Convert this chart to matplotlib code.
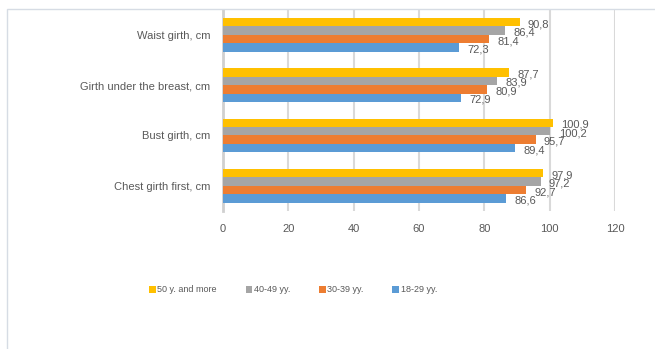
import numpy as np
import matplotlib.pyplot as plt
from matplotlib.patches import Rectangle

plt.rcParams['font.family'] = ['Liberation Sans', 'DejaVu Sans']

categories = ["Chest girth first, cm", "Bust girth, cm",
              "Girth under the breast, cm", "Waist girth, cm"]
series_names = ["18-29 yy.", "30-39 yy.", "40-49 yy.", "50 y. and more"]
v_18_29 = [86.6, 89.4, 72.9, 72.3]
v_30_39 = [92.7, 95.7, 80.9, 81.4]
v_40_49 = [97.2, 100.2, 83.9, 86.4]
v_50_up = [97.9, 100.9, 87.7, 90.8]
colors = ["#5B9BD5", "#ED7D31", "#A5A5A5", "#FFC000"]
xticks = [0, 20, 40, 60, 80, 100, 120]

txt = "#595959"
fig = plt.figure(figsize=(6.55, 3.49), dpi=100)
fig.patches.append(Rectangle((7/655, -0.1), 1.1, 1 - 9/349 + 0.1,
                             transform=fig.transFigure, fill=False,
                             edgecolor="#D6DCE4", lw=1.0))
ax = fig.add_axes([223/655, 1 - 211/349, 392/655, (211 - 9.5)/349])

y = np.arange(len(categories))
h = 0.168
handles = []
for i, vals in enumerate([v_18_29, v_30_39, v_40_49, v_50_up]):
    pos = y + (i - 1.5) * h
    b = ax.barh(pos, vals, height=h, color=colors[i], label=series_names[i], zorder=3)
    handles.append(b)
    for p, v in zip(pos, vals):
        ax.annotate(f"{v:.1f}".replace(".", ","), (v, p), xytext=(6, -1.5),
                    textcoords="offset points", va="center", ha="left",
                    fontsize=8, color=txt, zorder=4)

ax.set_xlim(0, 120)
ax.set_ylim(-0.5, 3.5)
ax.set_xticks(xticks)
ax.set_yticks(y)
ax.set_yticklabels(categories)
ax.tick_params(axis="both", length=0, labelsize=8, colors=txt)
ax.tick_params(axis="y", pad=9)
ax.tick_params(axis="x", pad=9)
ax.grid(axis="x", color="#D9D9D9", lw=1.5, zorder=0)
for s in ["top", "right", "bottom"]:
    ax.spines[s].set_visible(False)
ax.spines["left"].set_color("#D0D0D0")
ax.spines["left"].set_linewidth(2)

fig.legend(handles[::-1], series_names[::-1], loc="center",
           bbox_to_anchor=(293/655, 1 - 290/349), ncol=4, frameon=False,
           fontsize=6.5, labelcolor=txt, handlelength=0.75, handleheight=0.75,
           handletextpad=0.15, columnspacing=3.2)

fig.savefig("out.png", dpi=100)
